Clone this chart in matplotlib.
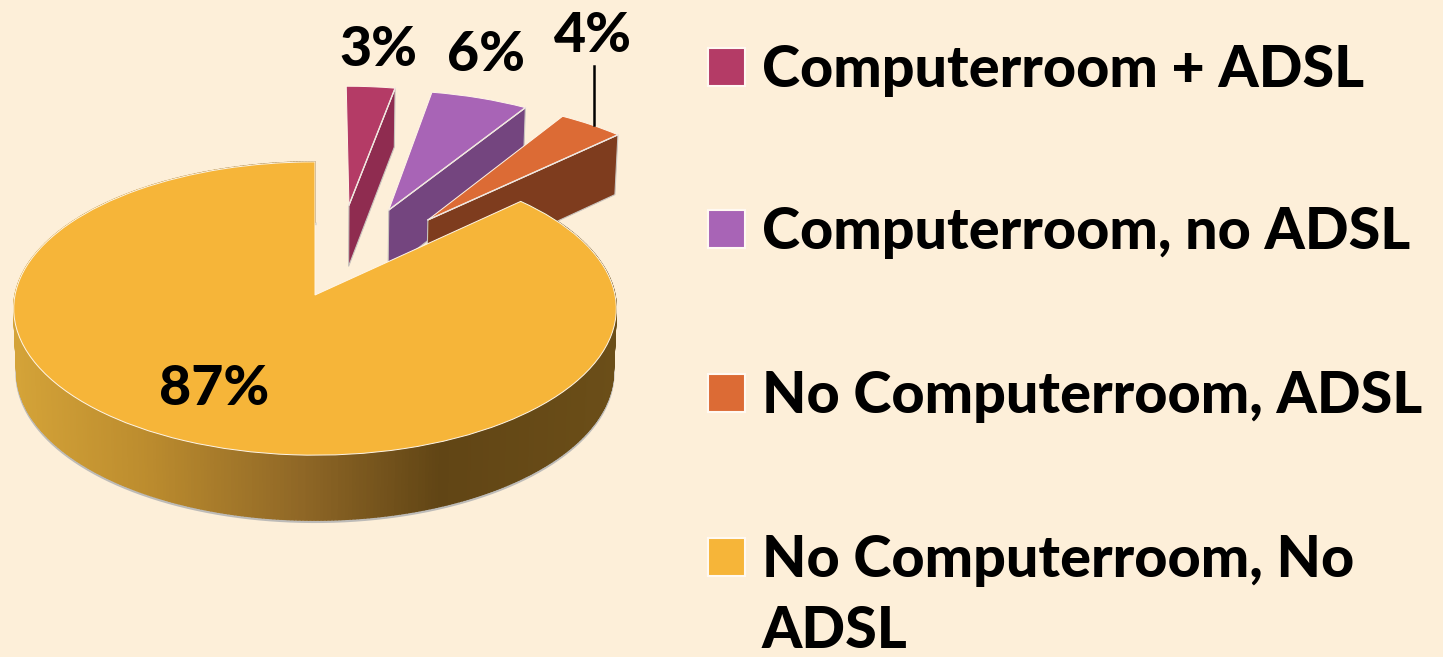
import numpy as np
import matplotlib
matplotlib.use("Agg")
import matplotlib.pyplot as plt
from matplotlib import transforms as mtrans
from matplotlib.collections import PolyCollection
from matplotlib.colors import LinearSegmentedColormap
from matplotlib.lines import Line2D
from matplotlib.patches import Rectangle

categories = ["Computerroom + ADSL", "Computerroom, no ADSL",
              "No Computerroom, ADSL", "No Computerroom, No\nADSL"]
values = [3, 6, 4, 87]
value_labels = ["3%", "6%", "4%", "87%"]

top_colors = ["#B43B66", "#A864B6", "#DC6B35", "#F6B539"]
side_colors = ["#8F2C50", "#74457F", "#7E3C1E"]
BG = "#FDEFD9"

W, H = 1443, 657
CX, CY, AX, AY = 315.0, 295.0, 300.0, 145.4
P = 0.0922
offsets = [(0.120, 0.655), (0.260, 0.618), (0.395, 0.542), (0.0, 0.0)]
label_pos = [(378, 50), (486, 55), (593, 36), (214, 389)]
legend_y = [68, 230, 394, 558]
FONT = "Lato"
FS = 40
LEGEND_FS = 41.4


class Perspective(mtrans.Transform):
    input_dims = output_dims = 2
    is_separable = False
    has_inverse = False

    def transform_non_affine(self, v):
        v = np.asarray(v, float)
        w = 1 + P * v[:, 1]
        return np.column_stack([v[:, 0] / w, v[:, 1] / w])


persp = Perspective()


def proj(x, y):
    return persp.transform_non_affine(np.column_stack([x, y]))


def extrude(pts, unit_y):
    depth = 62.7 - 2.3 * np.asarray(unit_y)
    out = pts.copy()
    out[:, 0] *= 0.99
    out[:, 1] -= depth / AY
    return out


fig = plt.figure(figsize=(W / 100, H / 100), dpi=100, facecolor=BG)
ax = fig.add_axes([0, 0, 1, 1])
fig.patch.set_facecolor(BG)

wedges, _ = ax.pie(values, colors=top_colors, startangle=90, counterclock=False,
                   radius=1, wedgeprops=dict(edgecolor="#FFF6E8", linewidth=0.7))
ax.set_aspect("auto")
ax.set_xlim(-CX / AX, (W - CX) / AX)
ax.set_ylim((CY - H) / AY, CY / AY)
ax.axis("off")

edges = 360 * np.cumsum([0] + values) / np.sum(values)

# radial side walls of the pulled-out slices (each slice stacked on the previous one)
for i in range(3):
    ox, oy = offsets[i]
    th = np.radians(edges[i + 1])
    ux = np.array([ox, ox + np.sin(th)])
    uy = np.array([oy, oy + np.cos(th)])
    top = proj(ux, uy)
    bot = extrude(top, uy)
    poly = np.vstack([top, bot[::-1]])
    ax.fill(poly[:, 0], poly[:, 1], facecolor=side_colors[i], edgecolor="#C9C4BE",
            linewidth=0.8, zorder=1 + i * 0.1)
    ax.plot(top[:, 0], top[:, 1], color="#EFE6E0", lw=1.0, zorder=1.03 + i * 0.1)

# rim of the large slice, shaded left to right
cmap = LinearSegmentedColormap.from_list(
    "rim", [(0.0, "#D4A338"), (0.22, "#BC8C2E"), (0.48, "#8F6726"),
            (0.71, "#614515"), (1.0, "#6B4E18")])
th = np.radians(np.linspace(edges[3], edges[4], 500))
ux, uy = np.sin(th), np.cos(th)
top = proj(ux, uy)
bot = extrude(top, uy)
quads, shades = [], []
for k in range(len(th) - 1):
    quads.append([top[k], top[k + 1], bot[k + 1], bot[k]])
    shades.append(np.clip((CX + AX * top[k, 0] - 14) / 602, 0, 1))
rim_cols = cmap(shades)
ax.plot(bot[:, 0], bot[:, 1] - 1.5 / AY, color="#BDBBB8", lw=2.0, zorder=1.5)
ax.add_collection(PolyCollection(quads, facecolors=rim_cols, edgecolors=rim_cols,
                                 linewidths=1.0, zorder=1.6))

for i, (w, (ox, oy)) in enumerate(zip(wedges, offsets)):
    w.set_center((ox, oy))
    w.set_transform(persp + ax.transData)
    w.set_zorder(2 if i == 3 else 1.02 + i * 0.1)

# pixel coordinates for labels and legend
to_fig = mtrans.Affine2D().scale(1 / W, -1 / H).translate(0, 1) + fig.transFigure

for txt, (x, y) in zip(value_labels, label_pos):
    fig.text(x, y, txt, transform=to_fig, ha="center", va="center", color="black",
             fontsize=FS, fontweight=900, family=FONT, zorder=5)

fig.add_artist(Line2D([594, 594], [66, 125], color="black", lw=1.8, transform=to_fig))

for name, col, y in zip(categories, top_colors, legend_y):
    fig.add_artist(Rectangle((708, y - 20), 37, 38, facecolor=col, edgecolor="#FFF9F2",
                             linewidth=1.5, transform=to_fig))
    fig.text(762, y - 24, name, transform=to_fig, ha="left", va="top", color="black",
             fontsize=LEGEND_FS, fontweight=900, family=FONT, linespacing=1.42)

fig.savefig("out.png", dpi=100, facecolor=BG)
